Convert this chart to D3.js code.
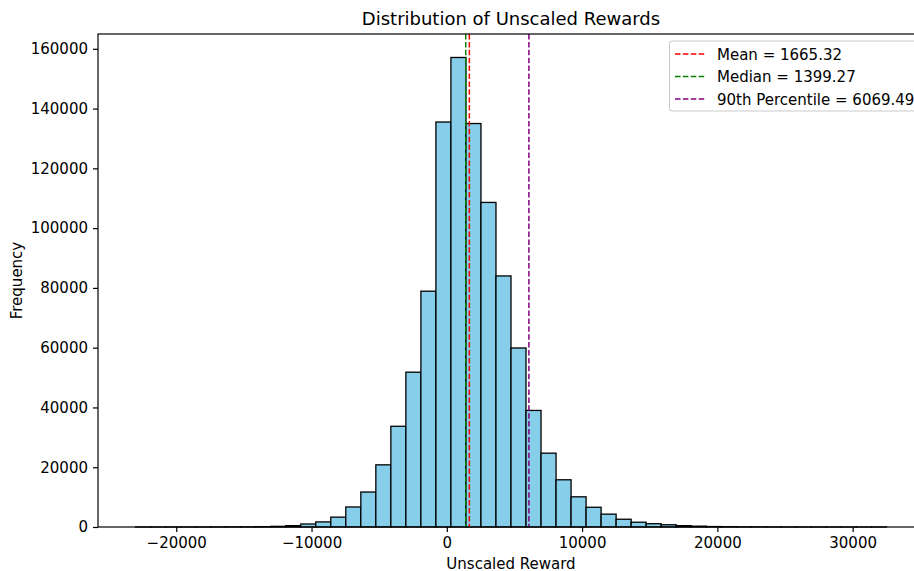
<!DOCTYPE html>
<html>
<head>
<meta charset="utf-8">
<script src="https://cdn.jsdelivr.net/npm/d3@7"></script>
<style>
  body { margin: 0; background: #fff; }
  svg { display: block; font-family: "DejaVu Sans", sans-serif; }
</style>
</head>
<body>
<svg id="chart" width="914" height="571"></svg>
<script>
// ---- data ----
const binMin = -23010;
const binMax = 32500;
const counts = [
  3, 2, 5, 8, 12, 20, 35, 60, 110, 220,
  450, 1000, 1700, 3300, 6700, 11700, 20800, 33700, 51800, 78900,
  135500, 157100, 135000, 108600, 84000, 59900, 39000, 24700, 15800, 10100,
  6600, 4300, 2600, 1600, 1100, 750, 450, 280, 150, 90,
  50, 30, 20, 12, 8, 5, 3, 2, 1, 1
];
const statNames = ["Mean", "Median", "90th Percentile"];
const statValues = [1665.32, 1399.27, 6069.49];
const statColors = ["#ff0000", "#008000", "#800080"];
const xTicks = [-20000, -10000, 0, 10000, 20000, 30000];
const yTicks = [0, 20000, 40000, 60000, 80000, 100000, 120000, 140000, 160000];
const titleText = "Distribution of Unscaled Rewards";
const xLabel = "Unscaled Reward";
const yLabel = "Frequency";

// ---- layout ----
const L = 98, R = 924, T = 34, B = 527;
const svg = d3.select("#chart");
const n = counts.length;
const bw = (binMax - binMin) / n;
const bins = counts.map((c, i) => ({ x0: binMin + i * bw, x1: binMin + (i + 1) * bw, c }));

const span = binMax - binMin;
const x = d3.scaleLinear().domain([binMin - 0.05 * span, binMax + 0.05 * span]).range([L, R]);
const y = d3.scaleLinear().domain([0, d3.max(counts) * 1.05]).range([B, T]);

// bars
svg.append("g").selectAll("rect").data(bins).join("rect")
  .attr("x", d => x(d.x0))
  .attr("y", d => y(d.c))
  .attr("width", d => x(d.x1) - x(d.x0))
  .attr("height", d => B - y(d.c))
  .attr("fill", "#87ceeb")
  .attr("stroke", "#000")
  .attr("stroke-width", 1.3);

// stat lines
svg.append("g").selectAll("line").data(statValues).join("line")
  .attr("x1", d => x(d)).attr("x2", d => x(d))
  .attr("y1", T).attr("y2", B)
  .attr("stroke", (d, i) => statColors[i])
  .attr("stroke-width", 1.5)
  .attr("stroke-dasharray", "5.5,2.4");

// axes
const fmt = d => (d < 0 ? "\u2212" + Math.abs(d) : String(d));
const xAxis = svg.append("g").attr("transform", `translate(0,${B})`)
  .call(d3.axisBottom(x).tickValues(xTicks).tickFormat(fmt).tickSize(5).tickPadding(5.5));
const yAxis = svg.append("g").attr("transform", `translate(${L},0)`)
  .call(d3.axisLeft(y).tickValues(yTicks).tickFormat(fmt).tickSize(5).tickPadding(5));
[xAxis, yAxis].forEach(g => {
  g.select(".domain").remove();
  g.selectAll(".tick line").attr("stroke", "#000").attr("stroke-width", 1.2);
  g.selectAll(".tick text").attr("fill", "#000").style("font-size", "15px")
    .style("font-family", "DejaVu Sans, sans-serif");
});

// spines
svg.append("rect").attr("x", L).attr("y", T).attr("width", R - L).attr("height", B - T)
  .attr("fill", "none").attr("stroke", "#000").attr("stroke-width", 1.2);

// title and labels
svg.append("text").attr("x", (L + R) / 2).attr("y", 25).attr("text-anchor", "middle")
  .style("font-size", "18px").text(titleText);
svg.append("text").attr("x", (L + R) / 2).attr("y", 568.5).attr("text-anchor", "middle")
  .style("font-size", "15px").text(xLabel);
svg.append("text").attr("transform", `translate(22,${(T + B) / 2}) rotate(-90)`)
  .attr("text-anchor", "middle").style("font-size", "15px").text(yLabel);

// legend
const lg = svg.append("g").attr("transform", "translate(669.5,41)");
lg.append("rect").attr("width", 260).attr("height", 70).attr("rx", 3)
  .attr("fill", "#fff").attr("fill-opacity", 0.8).attr("stroke", "#cccccc").attr("stroke-width", 1.1);
const rows = lg.selectAll("g.row").data(statNames).join("g").attr("class", "row")
  .attr("transform", (d, i) => `translate(0,${13 + i * 22.5})`);
rows.append("line").attr("x1", 5.5).attr("x2", 35).attr("y1", 0).attr("y2", 0)
  .attr("stroke", (d, i) => statColors[i]).attr("stroke-width", 1.5).attr("stroke-dasharray", "5.5,2.4");
rows.append("text").attr("x", 47.5).attr("y", 5.5).style("font-size", "15px")
  .text((d, i) => `${d} = ${statValues[i].toFixed(2)}`);
</script>
</body>
</html>
